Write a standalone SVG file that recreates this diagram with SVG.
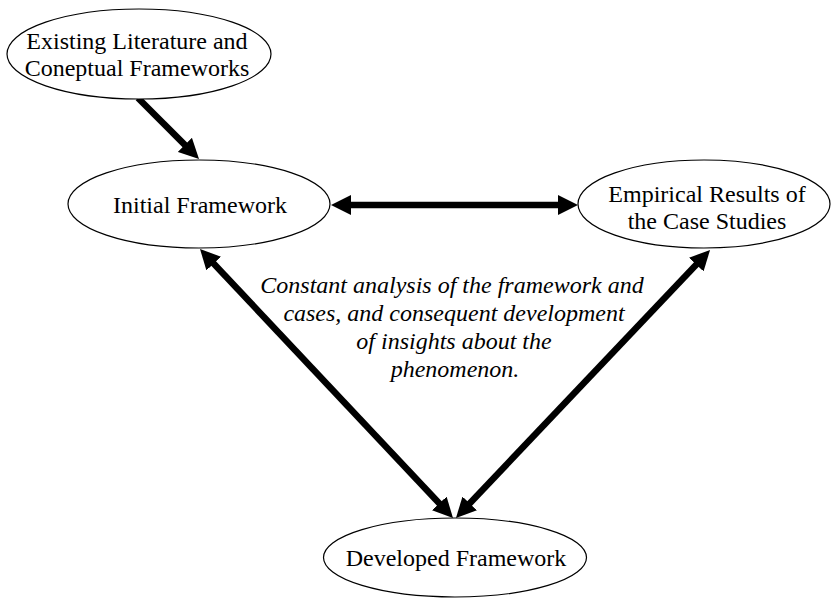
<svg xmlns="http://www.w3.org/2000/svg" width="832" height="607" viewBox="0 0 832 607">
  <style>
    .node ellipse { fill: #fff; stroke: #000; stroke-width: 1.2; }
    .label { font-family: "Liberation Serif", "Times New Roman", serif; font-size: 24px; fill: #000; text-anchor: middle; }
    .note { font-style: italic; }
    .edge { stroke: #000; stroke-width: 6.5; fill: none; }
  </style>
  <defs>
    <!-- solid triangular head; the line stops 14px short of the tip -->
    <marker id="head" viewBox="0 0 20 20" refX="6" refY="10" markerWidth="20" markerHeight="20" orient="auto-start-reverse" markerUnits="userSpaceOnUse">
      <path d="M0,0 L20,10 L0,20 Z" fill="#000"/>
    </marker>
  </defs>

  <rect width="832" height="607" fill="#fff"/>

  <g id="connectors">
    <line class="edge" x1="138" y1="98" x2="189.1" y2="149.1" marker-end="url(#head)"/>
    <line class="edge" x1="345" y1="205" x2="564" y2="205" marker-start="url(#head)" marker-end="url(#head)"/>
    <line class="edge" x1="209.6" y1="259.2" x2="443.4" y2="507.8" marker-start="url(#head)" marker-end="url(#head)"/>
    <line class="edge" x1="700.4" y1="260.2" x2="465.6" y2="507.8" marker-start="url(#head)" marker-end="url(#head)"/>
  </g>

  <g id="existing-literature" class="node">
    <ellipse cx="139" cy="54" rx="132" ry="45"/>
    <text class="label" x="137" y="49">Existing Literature and</text>
    <text class="label" x="137" y="76">Coneptual Frameworks</text>
  </g>

  <g id="initial-framework" class="node">
    <ellipse cx="199" cy="204" rx="131" ry="44"/>
    <text class="label" x="200" y="213">Initial Framework</text>
  </g>

  <g id="empirical-results" class="node">
    <ellipse cx="704" cy="204" rx="126" ry="44"/>
    <text class="label" x="707" y="202">Empirical Results of</text>
    <text class="label" x="707" y="229">the Case Studies</text>
  </g>

  <g id="developed-framework" class="node">
    <ellipse cx="455" cy="557.5" rx="131.5" ry="39.5"/>
    <text class="label" x="456" y="566">Developed Framework</text>
  </g>

  <g id="annotation">
    <text class="label note" x="452" y="293">Constant analysis of the framework and</text>
    <text class="label note" x="454" y="321">cases, and consequent development</text>
    <text class="label note" x="454" y="349">of insights about the</text>
    <text class="label note" x="455" y="377">phenomenon.</text>
  </g>
</svg>
